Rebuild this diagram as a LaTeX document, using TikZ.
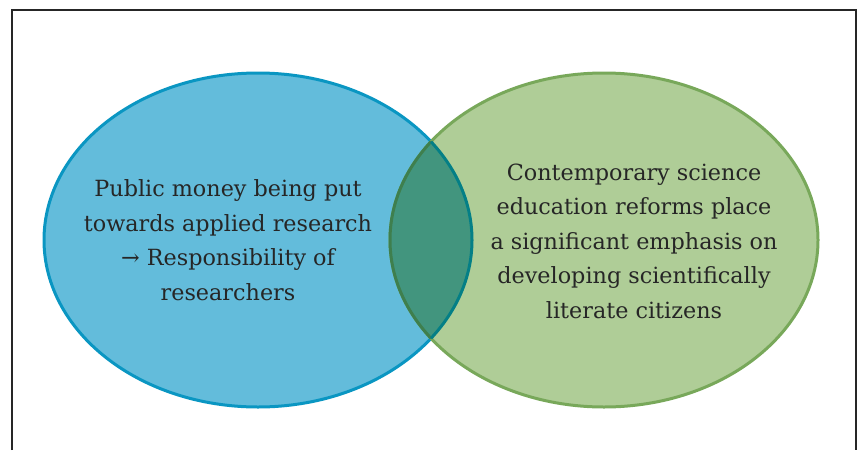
\documentclass[tikz,border=0pt]{standalone}
\usepackage{fontspec}
\setmainfont{DejaVu Serif}
\usetikzlibrary{shapes.geometric}

\definecolor{setblue}{HTML}{63BCDB}
\definecolor{setblueline}{HTML}{0A96C2}
\definecolor{setgreen}{HTML}{AFCD97}
\definecolor{setgreenline}{HTML}{78A85A}
\definecolor{overlap}{HTML}{42957E}
\definecolor{overlapblue}{HTML}{047F86}
\definecolor{overlapgreen}{HTML}{3E7F4E}
\definecolor{textgray}{HTML}{262626}

\tikzset{
	x=1pt, y=-1pt,
	set/.style = {
			ellipse,
			minimum width  = 428pt,
			minimum height = 334pt,
			inner sep = 0pt,
			line width = 3pt,
		},
	settext/.style = {
			align = center,
			text  = textgray,
			font  = \fontsize{22.3}{34.5}\selectfont,
		}
}

\begin{document}
\begin{tikzpicture}
	\useasboundingbox (0,0) rectangle (861,450);
	% frame, open at the bottom
	\draw[line width=1.4pt, black!85] (12,450) -- (12,10) -- (856,10) -- (856,450);

	% the two sets
	\node[set, fill=setblue, draw=setblueline] (Funding) at (258,240) {};
	\node[set, fill=setgreen, draw=setgreenline] (Education) at (604,240) {};

	% intersection
	\begin{scope}
		\clip (Funding.center) ellipse [x radius=214pt, y radius=167pt];
		\fill[overlap] (Education.center) ellipse [x radius=214pt, y radius=167pt];
		\draw[overlapgreen, line width=3pt] (Education.center) ellipse [x radius=214pt, y radius=167pt];
	\end{scope}
	\begin{scope}
		\clip (Education.center) ellipse [x radius=214pt, y radius=167pt];
		\draw[overlapblue, line width=3pt] (Funding.center) ellipse [x radius=214pt, y radius=167pt];
	\end{scope}

	\node[settext] (Funding text) at (228,240) {Public money being put\\towards applied research\\→ Responsibility of\\researchers};
	\node[settext] (Education text) at (634,241) {Contemporary science\\education reforms place\\a significant emphasis on\\developing scientifically\\literate citizens};
\end{tikzpicture}
\end{document}
